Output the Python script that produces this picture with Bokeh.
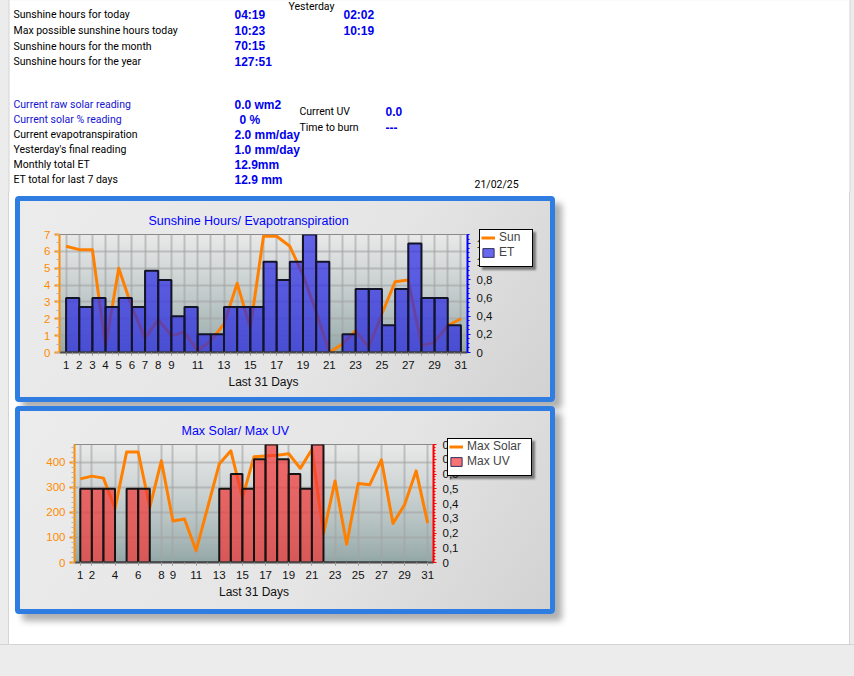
import numpy as np
from bokeh.plotting import figure
from bokeh.layouts import column
from bokeh.models import (Range1d, LinearAxis, FixedTicker, Grid, Legend, LegendItem,
                          CustomJSTickFormatter, ColumnDataSource, Spacer)
from bokeh.core.properties import value
from bokeh.embed import file_html
from bokeh.resources import INLINE

# ------------------------------------------------------------------ data
days = list(range(1, 32))
sun_hours = [6.3, 6.1, 6.1, 0.35, 5.0, 2.7, 0.85, 1.95, 1.0, 1.2, 0.1, 0.7, 1.7, 4.1, 1.45,
             6.9, 6.9, 6.3, 4.6, 2.4, 0.0, 0.5, 1.3, 0.3, 2.3, 4.2, 4.3, 0.4, 0.6, 1.6, 2.0]
et_mm = [0.6, 0.5, 0.6, 0.5, 0.6, 0.5, 0.9, 0.8, 0.4, 0.5, 0.2, 0.2, 0.5, 0.5, 0.5,
         1.0, 0.8, 1.0, 1.3, 1.0, 0.0, 0.2, 0.7, 0.7, 0.3, 0.7, 1.2, 0.6, 0.6, 0.3]
max_solar = [333, 344, 336, 215, 440, 440, 220, 405, 165, 173, 47, 220, 392, 445, 258,
             421, 424, 427, 433, 375, 450, 115, 325, 73, 315, 310, 409, 155, 230, 365, 157]
max_uv = [0.5, 0.5, 0.5, 0.0, 0.5, 0.5, 0.0, 0.0, 0.0, 0.0, 0.0, 0.0, 0.5, 0.6, 0.5,
          0.7, 0.8, 0.7, 0.6, 0.5, 0.8, 0.0, 0.0, 0.0, 0.0, 0.0, 0.0, 0.0, 0.0, 0.0]
chart1_labels = ["1", "2", "3", "4", "5", "6", "7", "8", "9", "", "11", "", "13", "", "15", "",
                 "17", "", "19", "", "21", "", "23", "", "25", "", "27", "", "29", "", "31"]
chart2_label_days = [1, 2, 4, 6, 8, 9, 11, 13, 15, 17, 19, 21, 23, 25, 27, 29, 31]
sun_ticks = [0, 1, 2, 3, 4, 5, 6, 7]
et_ticks = [0, 0.2, 0.4, 0.6, 0.8, 1.0, 1.2]
solar_ticks = [0, 100, 200, 300, 400]
uv_ticks = [0, 0.1, 0.2, 0.3, 0.4, 0.5, 0.6, 0.7, 0.8]

sun_labels = ["Sunshine hours for today", "Max possible sunshine hours today",
              "Sunshine hours for the month", "Sunshine hours for the year"]
sun_today = ["04:19", "10:23", "70:15", "127:51"]
sun_yesterday = ["02:02", "10:19"]
solar_labels = ["Current raw solar reading", "Current solar % reading",
                "Current evapotranspiration", "Yesterday's final reading",
                "Monthly total ET", "ET total for last 7 days"]
solar_values = ["0.0 wm2", "0 %", "2.0 mm/day", "1.0 mm/day", "12.9mm", "12.9 mm"]
uv_labels = ["Current UV", "Time to burn"]
uv_values = ["0.0", "---"]
date_text = "21/02/25"

# ------------------------------------------------------------------ style
W = 854
PAGE_GRAY = "#ececec"
EDGE = "#d4d4d4"
BLUE_BORDER = "#2f7de1"
LABEL_FONT = "Roboto"
VALUE_FONT = "Liberation Sans"
CHART_FONT = "Liberation Sans"
VAL_BLUE = "#0000ee"
SUN_COLOR = "#ff8000"
PAGE_BG = ("linear-gradient(to right, {g} 0px, {g} 8px, {e} 8px, {e} 9px, #ffffff 9px, "
           "#ffffff 849px, {e} 849px, {e} 850px, {g} 850px)").format(g=PAGE_GRAY, e=EDGE)
PANEL_STYLE = {"border": "5px solid " + BLUE_BORDER, "border-radius": "4px",
               "box-shadow": "7px 7px 6px rgba(80,80,80,0.45)", "position": "relative",
               "background": "linear-gradient(125deg, #ececec 0%, #e5e5e5 60%, #d2d2d2 100%)"}

# ------------------------------------------------------------------ top text block
pa = figure(width=W, height=192, x_range=Range1d(0, W), y_range=Range1d(192, 0),
            output_backend="svg", toolbar_location=None, min_border=0,
            x_axis_location=None, y_axis_location=None, outline_line_color=None,
            background_fill_color=PAGE_GRAY, border_fill_color=PAGE_GRAY)
pa.grid.visible = False
pa.quad(left=[8.5], right=[849.5], top=[-5], bottom=[200], fill_color="white",
        line_color=EDGE, line_width=1)


def add_text(p, xs, ys, texts, colors, size, font, style="normal"):
    src = ColumnDataSource(dict(x=xs, y=ys, text=texts, c=colors))
    p.text(x="x", y="y", text="text", text_color="c", source=src,
           text_font=value(font), text_font_size=size, text_font_style=style,
           text_baseline="middle", text_align="left")


add_text(pa, [13] * 4, [14, 30, 45.5, 61], sun_labels, ["black"] * 4, "10.5px", LABEL_FONT)
add_text(pa, [234] * 4, [14, 30, 45.5, 61], sun_today, [VAL_BLUE] * 4, "12px", VALUE_FONT, "bold")
add_text(pa, [343] * 2, [14, 30], sun_yesterday, [VAL_BLUE] * 2, "12px", VALUE_FONT, "bold")
add_text(pa, [288], [6], ["Yesterday"], ["black"], "10.5px", LABEL_FONT)
add_text(pa, [13] * 6, [104, 119, 134, 149, 164, 179], solar_labels,
         ["#1414d2", "#1414d2", "black", "black", "black", "black"], "10.5px", LABEL_FONT)
add_text(pa, [234, 239, 234, 234, 234, 234], [104, 119, 134, 149, 164, 179], solar_values,
         [VAL_BLUE] * 6, "12px", VALUE_FONT, "bold")
add_text(pa, [299] * 2, [111, 127], uv_labels, ["black"] * 2, "10.5px", LABEL_FONT)
add_text(pa, [385] * 2, [111, 127], uv_values, [VAL_BLUE] * 2, "12px", VALUE_FONT, "bold")
add_text(pa, [474], [184], [date_text], ["black"], "10.5px", LABEL_FONT)


# ------------------------------------------------------------------ helpers
def gradient(n, top, bottom):
    img = np.empty((n, 1), dtype=np.uint32)
    v = img.view(dtype=np.uint8).reshape((n, 1, 4))
    for i in range(n):
        t = (i / (n - 1)) ** 0.8
        c = [bottom[k] + (top[k] - bottom[k]) * t for k in range(3)]
        v[i, 0, :] = [int(c[0]), int(c[1]), int(c[2]), 255]
    return img


comma_fmt = CustomJSTickFormatter(code="""
const s = tick.toFixed(1).replace('.', ',');
return s.endsWith(',0') ? s.slice(0, -2) : s;
""")


def make_chart(width, height, borders, y_max, y2_max, title, title_offset):
    bl, br, bt, bb = borders
    p = figure(width=width, height=height, x_range=Range1d(0.5, 31.5), y_range=Range1d(0, y_max),
               output_backend="svg", toolbar_location=None,
               min_border_left=bl, min_border_right=br, min_border_top=bt, min_border_bottom=bb,
               border_fill_alpha=0, background_fill_alpha=0,
               outline_line_color="#6a6a6a", outline_line_width=1)
    p.xgrid.visible = False
    p.ygrid.visible = False
    p.extra_y_ranges = {"y2": Range1d(0, y2_max)}
    p.title.text = title
    p.title.align = "left"
    p.title.offset = title_offset
    p.title.text_color = "#0000ff"
    p.title.text_font = CHART_FONT
    p.title.text_font_size = "12.5px"
    p.title.text_font_style = "normal"
    p.title.standoff = 14
    p.image_rgba(image=[gradient(118, (233, 233, 233), (146, 166, 166))],
                 x=0.5, y=0, dw=31, dh=y_max, level="underlay")
    return p


def style_axes(p, x_ticker, x_overrides, left_ticks, left_minor, right_axis):
    xa = p.xaxis[0]
    xa.ticker = x_ticker
    if x_overrides:
        xa.major_label_overrides = x_overrides
    xa.axis_label = "Last 31 Days"
    xa.axis_label_text_font_style = "normal"
    xa.axis_label_text_font = CHART_FONT
    xa.axis_label_text_font_size = "12px"
    xa.axis_label_text_color = "#111111"
    xa.axis_label_standoff = 3
    xa.axis_line_color = "#4a4a4a"
    xa.axis_line_width = 2
    xa.major_tick_out = 3
    xa.major_tick_in = 0
    xa.major_tick_line_color = "#8a8a8a"
    xa.minor_tick_out = 2
    xa.minor_tick_in = 0
    xa.minor_tick_line_color = "#a0a0a0"
    xa.major_label_text_font = CHART_FONT
    xa.major_label_text_font_size = "11.5px"
    xa.major_label_text_color = "#111111"
    xa.major_label_standoff = 5

    ya = p.yaxis[0]
    ya.ticker = FixedTicker(ticks=left_ticks, minor_ticks=left_minor)
    ya.axis_line_color = "#ff8c00"
    ya.axis_line_width = 2
    ya.major_tick_line_color = "#ff8c00"
    ya.major_tick_line_width = 2
    ya.major_tick_out = 5
    ya.major_tick_in = 0
    ya.minor_tick_out = 3
    ya.minor_tick_in = 0
    ya.minor_tick_line_color = "#b4b4b4"
    ya.major_label_text_color = "#ff8c00"
    ya.major_label_text_font = CHART_FONT
    ya.major_label_text_font_size = "11.5px"
    ya.major_label_standoff = 4
    p.add_layout(right_axis, "right")


def right_axis(color, ticks, minor):
    return LinearAxis(y_range_name="y2", ticker=FixedTicker(ticks=ticks, minor_ticks=minor),
                      formatter=comma_fmt, axis_line_color=color, axis_line_width=2,
                      major_tick_out=3, major_tick_in=0, major_tick_line_color=color,
                      minor_tick_out=2, minor_tick_in=0, minor_tick_line_color=color,
                      major_label_text_color="#111111", major_label_text_font=CHART_FONT,
                      major_label_text_font_size="11.5px", major_label_standoff=6)


def add_grids(p, xticks, yticks):
    p.renderers.append(Grid(dimension=0, ticker=FixedTicker(ticks=xticks),
                            grid_line_color="#a4a4a4", grid_line_alpha=0.6, grid_line_width=2))
    p.renderers.append(Grid(dimension=1, ticker=FixedTicker(ticks=yticks),
                            grid_line_color="#a4a4a4", grid_line_alpha=0.6, grid_line_width=2))


def legend_box(width, height, labels, line_y, bar_top, bar_color, left, top):
    """Small legend figure; the key glyphs reuse the chart data, kept outside its view."""
    lg = figure(width=width, height=height, x_range=Range1d(-3, -2), y_range=Range1d(-3, -2),
                output_backend="svg", toolbar_location=None, min_border=0,
                x_axis_location=None, y_axis_location=None, outline_line_color=None,
                border_fill_alpha=0, background_fill_alpha=0)
    lg.grid.visible = False
    k_line = lg.line(x=days, y=line_y, line_color=SUN_COLOR, line_width=3)
    k_bar = lg.quad(left=days[:-1], right=days[1:], bottom=0, top=bar_top,
                    fill_color=bar_color, fill_alpha=0.7, line_color="#303060", line_width=1)
    lg.add_layout(Legend(items=[LegendItem(label=labels[0], renderers=[k_line]),
                                LegendItem(label=labels[1], renderers=[k_bar])],
                         location="top_left", margin=0, padding=5, spacing=1,
                         background_fill_alpha=0, border_line_color=None,
                         label_text_font=CHART_FONT, label_text_font_size="12px",
                         glyph_width=14, glyph_height=11, label_standoff=4, label_height=14))
    return column(lg, styles={"position": "absolute", "left": "%dpx" % left, "top": "%dpx" % top,
                              "background": "white", "border": "1px solid #000000",
                              "padding-left": "1px",
                              "box-shadow": "3px 3px 2px rgba(0,0,0,0.45)"})


# ------------------------------------------------------------------ chart 1: sunshine / ET
# inner panel area: page x 20..550, y 201..397 ; plot frame: x 59..467, y 234..352
pb = make_chart(530, 196, (39, 83, 33, 45), 7, 1.3, "Sunshine Hours/ Evapotranspiration", 89)
add_grids(pb, days, sun_ticks)
sun_r = pb.line(days, sun_hours, line_color=SUN_COLOR, line_width=3, line_join="round")
et_r = pb.quad(left=days[:-1], right=days[1:], bottom=0, top=et_mm, y_range_name="y2",
               fill_color="#2828e5", fill_alpha=0.7, line_color="#141428", line_width=2)
style_axes(pb, FixedTicker(ticks=days, minor_ticks=[d + 0.5 for d in days[:-1]]),
           dict(zip(days, chart1_labels)), sun_ticks, [i * 0.5 for i in range(15)],
           right_axis("#0000ff", et_ticks, [i * 0.05 for i in range(27)]))
lg1_box = legend_box(51, 36, ["Sun", "ET"], sun_hours, et_mm, "#2828e5", 459, 28)

# ------------------------------------------------------------------ chart 2: max solar / UV
# inner panel area: page x 20..550, y 411..609 ; plot frame: x 74..433, y 444..562
pc = make_chart(530, 198, (54, 117, 33, 47), 470, 0.8, "Max Solar/ Max UV", 107)
add_grids(pc, chart2_label_days, solar_ticks)
solar_r = pc.line(days, max_solar, line_color=SUN_COLOR, line_width=3, line_join="round")
uv_r = pc.quad(left=days[:-1], right=days[1:], bottom=0, top=max_uv, y_range_name="y2",
               fill_color="#f43636", fill_alpha=0.7, line_color="#141414", line_width=2)
style_axes(pc, FixedTicker(ticks=chart2_label_days, minor_ticks=days), None,
           solar_ticks, [i * 20 for i in range(24)],
           right_axis("#ff0000", uv_ticks, [i * 0.02 for i in range(41)]))
lg2_box = legend_box(82, 36, ["Max Solar", "Max UV"], max_solar, max_uv, "#f43636", 427, 27)

# ------------------------------------------------------------------ page layout
panel_b = column(pb, lg1_box, margin=(4, 0, 0, 15), styles=PANEL_STYLE)
panel_c = column(pc, lg2_box, margin=(4, 0, 0, 15), styles=PANEL_STYLE)
bottom = Spacer(width=W, height=32, margin=(30, 0, 0, 0),
                styles={"background": "linear-gradient(to bottom, %s 0px, %s 1px, %s 1px)"
                                      % (EDGE, EDGE, PAGE_GRAY)})
p = column(pa, panel_b, panel_c, bottom, width=W, spacing=0, styles={"background": PAGE_BG})
open("out.html", "w").write(file_html(p, INLINE))
